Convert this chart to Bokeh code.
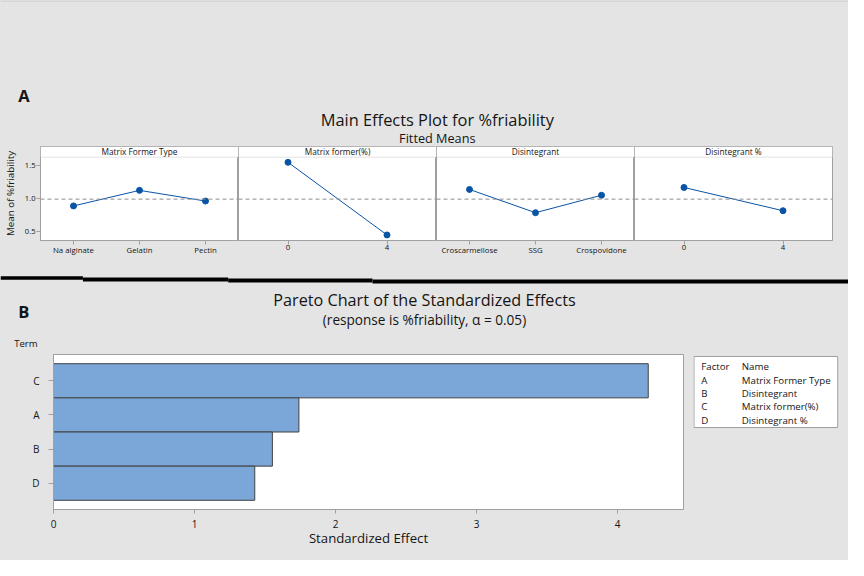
from bokeh.plotting import figure
from bokeh.layouts import column, row
from bokeh.models import Range1d, FactorRange, Span, BoxAnnotation, Label, FixedTicker, PrintfTickFormatter
from bokeh.embed import file_html
from bokeh.resources import INLINE
from bokeh.core.properties import value

BG = "#e4e4e4"
FONT = "Open Sans"
BLUE = "#0a54a5"
GREY = "#a0a0a0"
TXT = "#151515"

# ---- Main effects data ----
factor_names = ["Matrix Former Type", "Matrix former(%)", "Disintegrant", "Disintegrant %"]
mft_levels = ["Na alginate", "Gelatin", "Pectin"]
mft_means = [0.882, 1.118, 0.956]
mfp_levels = [0, 4]
mfp_means = [1.544, 0.441]
dis_levels = ["Croscarmellose", "SSG", "Crospovidone"]
dis_means = [1.132, 0.779, 1.044]
dip_levels = [0, 4]
dip_means = [1.162, 0.809]
grand_mean = 0.985
y_ticks = [0.5, 1.0, 1.5]

# ---- Pareto data ----
terms = ["C", "A", "B", "D"]
effects = [4.217, 1.740, 1.552, 1.427]
effect_ticks = [0, 1, 2, 3, 4]
legend_factors = ["A", "B", "C", "D"]
legend_names = ["Matrix Former Type", "Disintegrant", "Matrix former(%)", "Disintegrant %"]


def canvas(w, h):
    p = figure(frame_width=w, frame_height=h, x_range=Range1d(0, w), y_range=Range1d(h, 0),
               output_backend="svg", toolbar_location=None, min_border=0,
               min_border_left=0, min_border_right=0, min_border_top=0, min_border_bottom=0,
               x_axis_location=None, y_axis_location=None)
    p.grid.visible = False
    p.outline_line_color = None
    p.background_fill_color = BG
    p.border_fill_color = BG
    return p


def txt(p, x, y, s, size, align="left", bold=False):
    p.text(x=[x], y=[y], text=[s], text_font=value(FONT), text_font_size=size,
           text_align=align, text_baseline="middle", text_color=TXT,
           text_font_style="bold" if bold else "normal")


# ---- top header ----
top = canvas(848, 146)
top.line(x=[0, 848], y=[0.5, 0.5], line_color="#c8c8c8", line_width=1)
txt(top, 17.7, 95.3, "A", "16.5px", bold=True)
txt(top, 436.8, 118.6, "Main Effects Plot for %friability", "16.4px", "center")
txt(top, 436.8, 137.1, "Fitted Means", "12.7px", "center")

Y0, Y1, STRIP = 0.357, 1.784, 1.622


def panel(title, levels, means, numeric, xr, width, lb, rb, show_y):
    p = figure(width=width, height=116, x_range=Range1d(*xr), y_range=Range1d(Y0, Y1),
               output_backend="svg", toolbar_location=None,
               min_border_left=lb, min_border_right=rb, min_border_top=0, min_border_bottom=22,
               y_axis_location="left" if show_y else None)
    p.background_fill_color = "white"
    p.border_fill_color = BG
    p.outline_line_color = GREY
    p.grid.visible = False
    if numeric:
        xs = list(levels)
    else:
        xs = list(range(1, len(levels) + 1))
    ax = p.xaxis[0]
    ax.ticker = FixedTicker(ticks=xs)
    if not numeric:
        ax.major_label_overrides = {x: l for x, l in zip(xs, levels)}
    ax.major_label_text_font = FONT
    ax.major_label_text_font_size = "7.8px"
    ax.major_label_text_color = TXT
    ax.major_tick_out = 4
    ax.major_tick_in = 0
    ax.minor_tick_out = 0
    ax.minor_tick_in = 0
    ax.major_label_standoff = 0
    ax.axis_line_color = GREY
    ax.major_tick_line_color = GREY
    if show_y:
        ay = p.yaxis[0]
        ay.ticker = FixedTicker(ticks=y_ticks)
        ay.formatter = PrintfTickFormatter(format="%.1f")
        ay.axis_label = "Mean of %friability"
        ay.axis_label_text_font = FONT
        ay.axis_label_text_font_size = "9.8px"
        ay.axis_label_text_font_style = "normal"
        ay.axis_label_text_color = TXT
        ay.axis_label_standoff = 5
        ay.major_label_text_font = FONT
        ay.major_label_text_font_size = "7.6px"
        ay.major_label_text_color = TXT
        ay.major_tick_out = 4
        ay.major_tick_in = 0
        ay.minor_tick_out = 0
        ay.minor_tick_in = 0
        ay.major_label_standoff = 1
        ay.axis_line_color = GREY
        ay.major_tick_line_color = GREY
    p.add_layout(Span(location=grand_mean, dimension="width", line_color="#8c8c8c",
                      line_dash="4 3", line_width=1))
    p.add_layout(BoxAnnotation(bottom=STRIP, fill_color="white", fill_alpha=1,
                               line_color=GREY, line_width=1))
    p.add_layout(Label(x=(xr[0] + xr[1]) / 2, y=(STRIP + Y1) / 2, text=title,
                       text_align="center", text_baseline="middle", text_font=FONT,
                       text_font_size="8.3px", text_color=TXT))
    p.line(xs, means, line_color=BLUE, line_width=1)
    p.scatter(xs, means, size=6, fill_color=BLUE, line_color=BLUE)
    return p


p1 = panel(factor_names[0], mft_levels, mft_means, False, (0.5, 3.5), 238, 40, 0, True)
p2 = panel(factor_names[1], mfp_levels, mfp_means, True, (-2, 6), 198, 0, 0, False)
p3 = panel(factor_names[2], dis_levels, dis_means, False, (0.5, 3.5), 198, 0, 0, False)
p4 = panel(factor_names[3], dip_levels, dip_means, True, (-2, 6), 214, 0, 16, False)

# ---- pareto header ----
hb = canvas(848, 90)
for l, r, t, b in [(0, 82.4, 13.8, 17.3), (82.4, 227.7, 15.1, 19.0),
                   (227.7, 372, 16.1, 19.9), (372, 848, 17.0, 20.9)]:
    hb.quad(left=[l], right=[r], top=[t], bottom=[b], fill_color="black", line_color=None)
txt(hb, 17.7, 49.1, "B", "16.5px", bold=True)
txt(hb, 424, 37.4, "Pareto Chart of the Standardized Effects", "16.2px", "center")
txt(hb, 424, 56.9, "(response is %friability, \u03b1 = 0.05)", "13.6px", "center")
txt(hb, 13.7, 81.2, "Term", "9.6px")

# ---- pareto chart ----
pp = figure(width=693, height=208,
            y_range=FactorRange(factors=terms[::-1], range_padding=0.27, range_padding_units="absolute"),
            x_range=Range1d(0, 4.467), output_backend="svg", toolbar_location=None,
            min_border_left=53, min_border_right=10, min_border_top=2, min_border_bottom=51)
pp.background_fill_color = "white"
pp.border_fill_color = BG
pp.outline_line_color = GREY
pp.grid.visible = False
pp.hbar(y=terms, left=0, right=effects, height=1.0, fill_color="#7ba6d8",
        line_color="#404040", line_width=1)
xa = pp.xaxis[0]
xa.ticker = FixedTicker(ticks=effect_ticks)
xa.axis_label = "Standardized Effect"
xa.axis_label_text_font = FONT
xa.axis_label_text_font_size = "13.2px"
xa.axis_label_text_font_style = "normal"
xa.axis_label_text_color = TXT
xa.axis_label_standoff = -2
xa.major_label_text_font = FONT
xa.major_label_text_font_size = "10px"
xa.major_label_standoff = 6
for a in (pp.xaxis[0], pp.yaxis[0]):
    a.major_tick_out = 4
    a.major_tick_in = 0
    a.minor_tick_out = 0
    a.minor_tick_in = 0
    a.axis_line_color = GREY
    a.major_tick_line_color = GREY
    a.major_label_text_color = TXT
ya = pp.yaxis[0]
ya.major_label_text_font = FONT
ya.major_label_text_font_size = "10px"
ya.major_label_standoff = 9
ya.major_tick_out = 5

# ---- legend box ----
lg = canvas(155, 208)
lg.quad(left=[0.5], right=[144.2], top=[2], bottom=[73], fill_color="white", line_color=GREY)
txt(lg, 7.8, 12.3, "Factor", "9.7px")
txt(lg, 48.3, 12.3, "Name", "9.7px")
row_y = [25.9, 38.5, 52.1, 65.8]
for f, n, yy in zip(legend_factors, legend_names, row_y):
    txt(lg, 7.8, yy, f, "9.7px")
    txt(lg, 48.3, yy, n, "9.7px")

layout = column(top, row(p1, p2, p3, p4, styles={"background-color": BG}), hb,
                row(pp, lg, styles={"background-color": BG}),
                styles={"background-color": BG})
open("out.html", "w").write(file_html(layout, INLINE))
